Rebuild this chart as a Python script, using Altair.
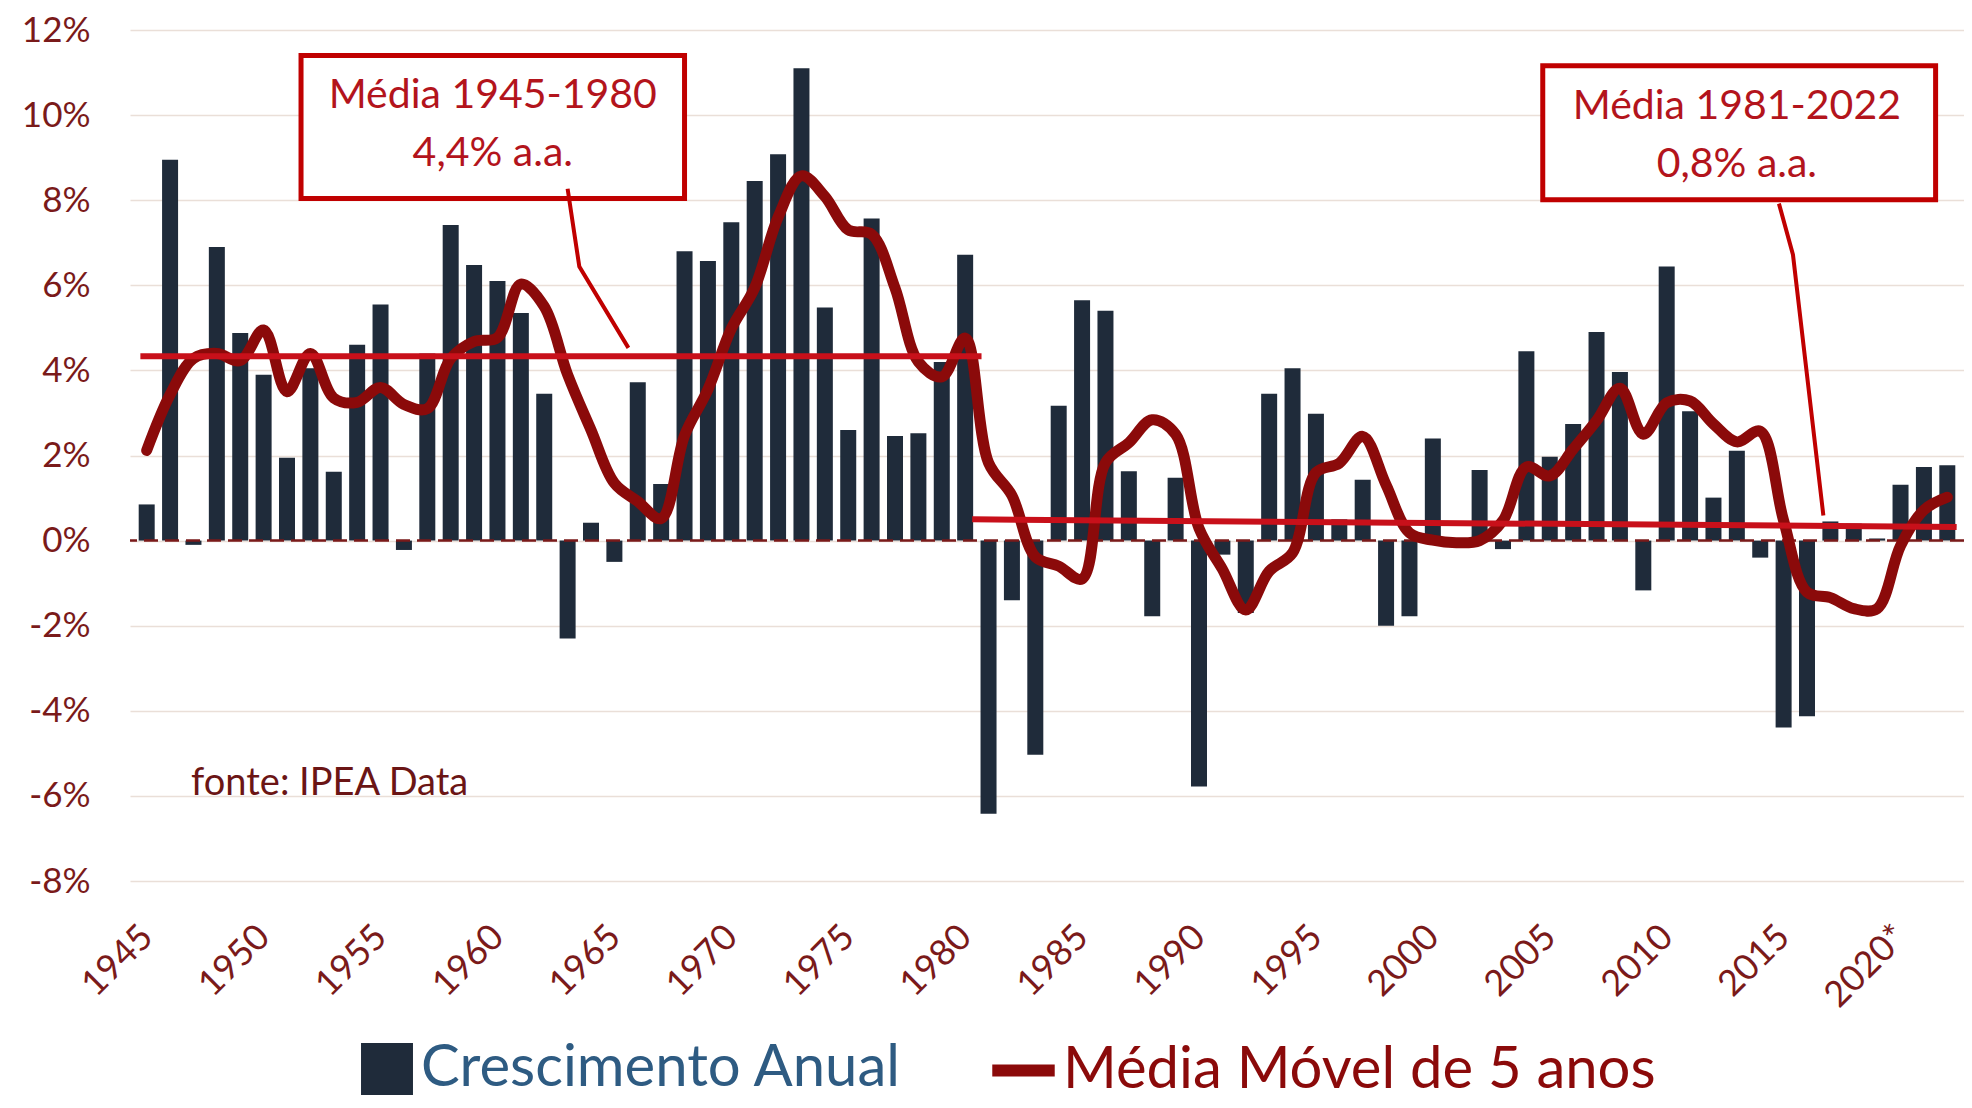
import altair as alt
import pandas as pd

# ---------------- data ----------------
years = list(range(1945, 2023))

growth = [
    0.85, 8.95, -0.10, 6.90, 4.88, 3.90, 1.95, 4.05, 1.62, 4.60,
    5.55, -0.22, 4.40, 7.42, 6.48, 6.10, 5.35, 3.45, -2.30, 0.42,
    -0.50, 3.72, 1.33, 6.80, 6.57, 7.48, 8.45, 9.08, 11.10, 5.48,
    2.60, 7.57, 2.46, 2.52, 4.20, 6.72, -6.42, -1.40, -5.03, 3.17,
    5.65, 5.40, 1.63, -1.78, 1.48, -5.78, -0.33, -1.70, 3.45, 4.05,
    2.98, 0.50, 1.43, -2.00, -1.78, 2.40, 0.05, 1.66, -0.20, 4.45,
    1.97, 2.74, 4.90, 3.96, -1.17, 6.44, 3.04, 1.01, 2.11, -0.40,
    -4.39, -4.13, 0.45, 0.40, 0.05, 1.31, 1.73, 1.77,
]

moving_avg = [
    2.12, 3.43, 4.28, 4.40, 4.23, 4.95, 3.50, 4.40, 3.35, 3.25,
    3.60, 3.20, 3.10, 4.28, 4.68, 4.77, 6.03, 5.50, 3.90, 2.60,
    1.35, 0.92, 0.52, 2.47, 3.55, 4.98, 5.94, 7.60, 8.57, 8.09,
    7.30, 7.20, 5.94, 4.20, 3.85, 4.76, 1.83, 1.06, -0.38, -0.60,
    -0.90, 1.83, 2.30, 2.84, 2.50, 0.29, -0.67, -1.63, -0.72, -0.29,
    1.60, 1.82, 2.45, 1.31, 0.18, 0.01, -0.05, 0.00, 0.47, 1.73,
    1.52, 2.15, 2.82, 3.58, 2.50, 3.24, 3.28, 2.74, 2.32, 2.57,
    0.47, -1.21, -1.34, -1.60, -1.60, -0.12, 0.72, 1.02,
]

tick_years = list(range(1945, 2021, 5))
y_ticks = list(range(-8, 13, 2))

bar_series = "Crescimento Anual"
line_series = "Média Móvel de 5 anos"

# period averages (drawn as horizontal segments)
avg_x_start = [1944.73, 1980.30]
avg_x_end = [1980.70, 2022.40]
avg_y_start = [4.33, 0.50]
avg_y_end = [4.33, 0.32]

# callout boxes
box_x1 = [1951.6, 2004.7]
box_x2 = [1968.0, 2021.5]
box_y1 = [8.04, 8.01]
box_y2 = [11.40, 11.16]
box_text_x = [1959.8, 2013.0]
box_line1 = ["Média 1945-1980", "Média 1981-2022"]
box_line2 = ["4,4% a.a.", "0,8% a.a."]
box_line1_y = [10.46, 10.20]
box_line2_y = [9.09, 8.83]

# leader lines from boxes to average lines
leader_group = ["a", "a", "a", "b", "b", "b"]
leader_order = [0, 1, 2, 0, 1, 2]
leader_x = [1963.0, 1963.5, 1965.6, 2014.8, 2015.4, 2016.7]
leader_y = [8.27, 6.44, 4.53, 7.92, 6.72, 0.59]

source_text = ["fonte: IPEA Data"]
source_x = [1946.9]
source_y = [-5.73]

# ---------------- styles ----------------
BAR = "#1f2b3a"
MA = "#8b0a0a"
AVG = "#c8101a"
BOXRED = "#c00000"
TXTRED = "#b3141c"
MAROON = "#7a1a1a"
LEG_BLUE = "#2e5b82"
FONT = "Lato"

xscale = alt.Scale(domain=[1944.5, 2022.5], nice=False, zero=False)
yscale = alt.Scale(domain=[-8, 12], nice=False)

df = pd.DataFrame({"year": years, "growth": growth, "ma": moving_avg})
df["serie"] = bar_series
df["serie2"] = line_series

x_axis = alt.Axis(
    values=tick_years,
    labelExpr="datum.value == 2020 ? '2020*' : '' + datum.value",
    labelAngle=-45,
    labelAlign="right",
    labelBaseline="middle",
    labelPadding=50,
    labelFont=FONT,
    labelFontSize=36,
    labelColor=MAROON,
    labelOverlap=False,
    labelFlush=False,
    ticks=False,
    domain=False,
    grid=False,
    title=None,
)
y_axis = alt.Axis(
    values=y_ticks,
    labelExpr="datum.value + '%'",
    labelFont=FONT,
    labelFontSize=35,
    labelColor=MAROON,
    labelPadding=40,
    ticks=False,
    domain=False,
    grid=True,
    gridColor="#eadfd8",
    gridWidth=1.5,
    title=None,
)

bars = alt.Chart(df).mark_bar(size=16).encode(
    x=alt.X("year:Q", scale=xscale, axis=x_axis),
    y=alt.Y("growth:Q", scale=yscale, axis=y_axis),
    color=alt.Color(
        "serie:N",
        scale=alt.Scale(domain=[bar_series], range=[BAR]),
        legend=alt.Legend(
            title=None,
            orient="none",
            legendX=228,
            legendY=1010,
            padding=0,
            symbolType="square",
            symbolSize=2700,
            symbolStrokeWidth=0,
            symbolOpacity=1,
            labelFont=FONT,
            labelFontSize=58,
            labelColor=LEG_BLUE,
            labelLimit=2000,
            labelOffset=5,
        ),
    ),
)

zero_df = pd.DataFrame({"y": [0]})
zero_rule = alt.Chart(zero_df).mark_rule(color=MAROON, strokeWidth=2.5, strokeDash=[14, 7]).encode(
    y=alt.Y("y:Q", scale=yscale)
)

ma_line = alt.Chart(df).mark_line(strokeWidth=11, interpolate="catmull-rom", strokeCap="round", strokeJoin="round").encode(
    x=alt.X("year:Q", scale=xscale),
    y=alt.Y("ma:Q", scale=yscale),
    stroke=alt.Stroke(
        "serie2:N",
        scale=alt.Scale(domain=[line_series], range=[MA]),
        legend=alt.Legend(
            title=None,
            orient="none",
            legendX=856,
            legendY=1003,
            padding=0,
            symbolType="stroke",
            symbolSize=3900,
            symbolStrokeWidth=12,
            labelFont=FONT,
            labelFontSize=58,
            labelColor=MA,
            labelLimit=2000,
            labelOffset=2,
        ),
    ),
)

avg_df = pd.DataFrame({"x": avg_x_start, "x2": avg_x_end, "y": avg_y_start, "y2": avg_y_end})
avg_lines = alt.Chart(avg_df).mark_rule(color=AVG, strokeWidth=6).encode(
    x=alt.X("x:Q", scale=xscale), x2="x2:Q",
    y=alt.Y("y:Q", scale=yscale), y2="y2:Q",
)

box_df = pd.DataFrame({
    "x1": box_x1, "x2": box_x2, "y1": box_y1, "y2": box_y2,
    "tx": box_text_x, "l1": box_line1, "l2": box_line2,
    "l1y": box_line1_y, "l2y": box_line2_y,
})
boxes = alt.Chart(box_df).mark_rect(fill="white", stroke=BOXRED, strokeWidth=5).encode(
    x=alt.X("x1:Q", scale=xscale), x2="x2:Q",
    y=alt.Y("y1:Q", scale=yscale), y2="y2:Q",
)
text1 = alt.Chart(box_df).mark_text(font=FONT, fontSize=41, color=TXTRED, align="center", baseline="middle").encode(
    x=alt.X("tx:Q", scale=xscale), y=alt.Y("l1y:Q", scale=yscale), text="l1:N"
)
text2 = alt.Chart(box_df).mark_text(font=FONT, fontSize=41, color=TXTRED, align="center", baseline="middle").encode(
    x=alt.X("tx:Q", scale=xscale), y=alt.Y("l2y:Q", scale=yscale), text="l2:N"
)

leader_df = pd.DataFrame({"g": leader_group, "o": leader_order, "x": leader_x, "y": leader_y})
leaders = alt.Chart(leader_df).mark_line(color=BOXRED, strokeWidth=4).encode(
    x=alt.X("x:Q", scale=xscale), y=alt.Y("y:Q", scale=yscale), detail="g:N", order="o:Q"
)

src_df = pd.DataFrame({"t": source_text, "x": source_x, "y": source_y})
src = alt.Chart(src_df).mark_text(font=FONT, fontSize=38, color="#6b1515", align="left", baseline="middle").encode(
    x=alt.X("x:Q", scale=xscale), y=alt.Y("y:Q", scale=yscale), text="t:N"
)

chart = alt.layer(
    bars, zero_rule, ma_line, avg_lines, boxes, leaders, text1, text2, src
).properties(
    width=1834,
    height=851,
    autosize=alt.AutoSizeParams(type="none"),
    padding={"left": 122, "top": 22, "right": 0, "bottom": 219},
    background="white",
).configure_view(stroke=None)

chart.save("out.html", embed_options={"renderer": "svg", "actions": False})
